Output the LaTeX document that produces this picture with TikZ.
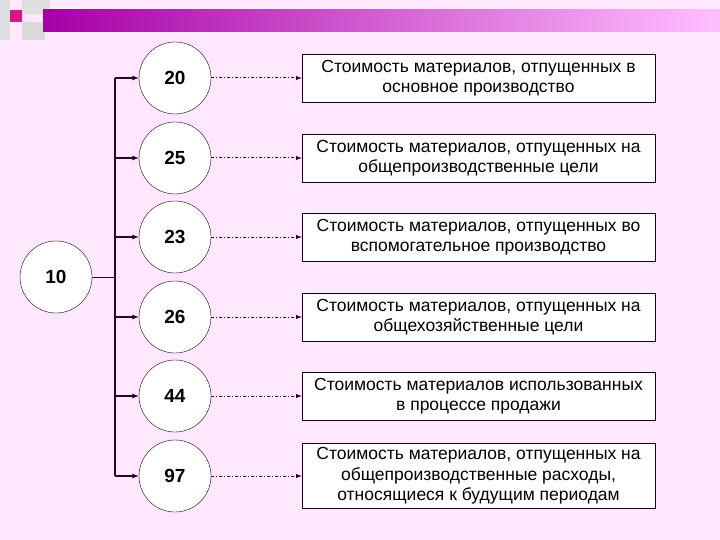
\documentclass[tikz,border=0pt]{standalone}
\usepackage{fontspec}
\setmainfont{Liberation Sans}
\begin{document}
\begin{tikzpicture}[x=1pt,y=-1pt,
 circ/.style={circle,draw=black!80!violet,fill=white,minimum size=72pt,inner sep=0pt,font=\fontsize{19}{19}\selectfont\bfseries},
 tbox/.style={draw=black!80!violet,fill=white,minimum width=353pt,align=center,font=\fontsize{17.5}{20.5}\selectfont,inner sep=2pt},
 bus/.style={draw=black!60!violet,line width=1.6pt},
 arr/.style={draw=black!60!violet,line width=1.2pt,-latex},
 dd/.style={draw=black!60!violet,line width=1pt,dash dot,-latex}]
\fill[pink!30!magenta!12!white] (0,0) rectangle (720,540);
\useasboundingbox (0,0) rectangle (720,540);
\fill[gray!25] (0,0) rectangle (10,40);
\fill[gray!25] (22,0) rectangle (50,14);
\fill[gray!30] (22,22) rectangle (45,40);
\fill[magenta!80!violet] (10,10) rectangle (22,22);
\shade[left color=violet!70!magenta, right color=magenta!25!white] (43,10) rectangle (720,32);
\node[circ] (c10) at (56,277) {10};
\coordinate (top) at (115,78);
\coordinate (bot) at (115,476);
\draw[bus] (top) -- (bot);
\coordinate (j) at (115,277);
\draw[draw=black!60!violet] (c10) -- (j);
\foreach \n/\y/\t/\h in {
 20/78/{Стоимость материалов, отпущенных в\\основное производство}/48,
 25/158/{Стоимость материалов, отпущенных на\\общепроизводственные цели}/48,
 23/237/{Стоимость материалов, отпущенных  во\\вспомогательное производство}/48,
 26/317/{Стоимость материалов, отпущенных на\\общехозяйственные цели}/48,
 44/396/{Стоимость материалов использованных\\в процессе продажи}/48,
 97/476/{Стоимость материалов, отпущенных на\\общепроизводственные расходы,\\относящиеся к будущим периодам}/65}{
 \node[circ] (c\n) at (175,\y) {\n};
 \node[tbox,minimum height=\h pt] (b\n) at (478.5,\y) {\t};
 \coordinate (s\n) at (115,\y);
 \draw[arr] (s\n) -- (c\n);
 \draw[dd] (c\n) -- (b\n);
}
\end{tikzpicture}
\end{document}
